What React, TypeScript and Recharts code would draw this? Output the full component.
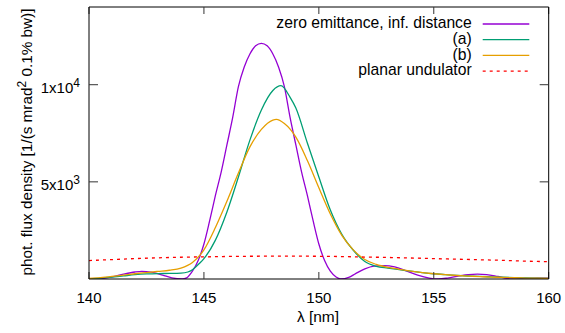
import { LineChart, Line, XAxis, YAxis } from "recharts"

const FONT = "'Liberation Sans', Arial, Helvetica, sans-serif"

// axis ticks
const xTicks = [140, 145, 150, 155, 160]
const yTicks = [5000, 10000]
const yTickBase = ["5x10", "1x10"]
const yTickExp = ["3", "4"]

const seriesNames = ["zero emittance, inf. distance", "(a)", "(b)", "planar undulator"]
const seriesColors = ["#9400d3", "#009e73", "#e69f00", "#ff0000"]

// zero emittance, infinite distance
const lambdaZero = [
  140, 140.4, 141, 141.5, 142, 142.3, 142.7, 143.2, 143.6, 144.05, 144.25, 144.5, 144.75, 145,
  145.25, 145.5, 145.75, 146, 146.25, 146.5, 146.75, 147, 147.25, 147.5, 147.75, 148, 148.25,
  148.5, 148.75, 149, 149.25, 149.5, 149.75, 150, 150.25, 150.5, 150.75, 150.95, 151.3, 151.6,
  152, 152.4, 152.85, 153.3, 153.8, 154.3, 154.8, 155.2, 155.6, 156.1, 156.5, 156.9, 157.3,
  157.8, 158.4, 159, 159.5, 160,
]
const fluxZero = [
  10, 5, 110, 250, 360, 390, 350, 200, 60, 0, 60, 400, 950, 1800,
  3000, 4300, 5500, 6900, 8300, 9900, 10900, 11580, 12000, 12130, 12000, 11580, 10900,
  9900, 8300, 6900, 5500, 4300, 3000, 1800, 950, 400, 100, 0, 80, 280,
  520, 660, 690, 620, 420, 200, 50, 0, 50, 160, 230, 250, 230,
  130, 0, 30, 50, 40,
]

// case (a)
const lambdaA = [
  140, 140.5, 141, 141.5, 142, 142.5, 143, 143.5, 144, 144.3, 144.5, 144.8, 145, 145.5, 146,
  146.5, 147, 147.5, 148, 148.35, 148.75, 149, 149.5, 150, 150.5, 151, 151.5, 152, 152.5, 153,
  153.5, 154, 154.5, 155, 155.5, 156, 156.5, 157, 157.5, 158, 158.5, 159, 159.5, 160,
]
const fluxA = [
  20, 50, 100, 160, 220, 260, 280, 285, 300, 360, 480, 800, 1050, 2000, 3450,
  5250, 7150, 8700, 9700, 9950, 9350, 8800, 7000, 5250, 3550, 2300, 1480, 900, 650, 560,
  480, 400, 330, 270, 225, 185, 155, 130, 110, 90, 72, 55, 42, 30,
]

// case (b)
const lambdaB = [
  140, 140.5, 141, 141.5, 142, 142.5, 143, 143.5, 144, 144.5, 145, 145.5, 146, 146.5, 147,
  147.5, 148, 148.15, 148.5, 149, 149.5, 150, 150.5, 151, 151.5, 152, 152.5, 153, 153.5, 154,
  154.5, 155, 155.5, 156, 156.5, 157, 157.5, 158, 158.5, 159, 159.5, 160,
]
const fluxB = [
  30, 70, 130, 200, 270, 330, 390, 450, 560, 850, 1500, 2650, 4000, 5450, 6800,
  7700, 8180, 8213, 8000, 7300, 6100, 4700, 3350, 2250, 1500, 1000, 750, 600, 500, 400,
  330, 270, 220, 180, 150, 125, 100, 80, 65, 50, 40, 30,
]

// planar undulator
const lambdaU = [140, 141, 142, 143, 144, 145, 146, 147, 148, 149, 150, 151, 152, 153, 154, 155, 156, 157, 158, 159, 160]
const fluxU = [950, 1000, 1050, 1090, 1120, 1140, 1160, 1170, 1175, 1175, 1170, 1155, 1130, 1110, 1080, 1050, 1020, 990, 960, 920, 890]

const pts = (xs: number[], ys: number[]) => xs.map((x, i) => ({ x, y: ys[i] }))

const series = [
  { data: pts(lambdaZero, fluxZero), dash: undefined },
  { data: pts(lambdaA, fluxA), dash: undefined },
  { data: pts(lambdaB, fluxB), dash: undefined },
  { data: pts(lambdaU, fluxU), dash: "3 4" },
]

const tickLineStyle = { stroke: "#333", strokeWidth: 1 }

function YTick(props: any) {
  const { x, y, payload } = props
  const i = yTicks.indexOf(payload.value)
  return (
    <text x={x} y={y + 8.5} textAnchor="end" fontSize={15} fontFamily={FONT} fill="#000">
      {yTickBase[i]}
      <tspan dy={-6} fontSize={12}>{yTickExp[i]}</tspan>
    </text>
  )
}

// mirrored axes: tick marks only, no labels
function NoLabel() {
  return <g />
}

export default function App() {
  return (
    <div style={{ position: "absolute", left: 0, top: 0, width: 565, height: 333, background: "#fff" }}>
      <LineChart width={565} height={333} margin={{ top: 6, right: 10, bottom: 4, left: 9 }}>
        <XAxis
          dataKey="x"
          type="number"
          domain={[140, 160]}
          ticks={xTicks}
          interval={0}
          height={50}
          tickSize={-7}
          tickMargin={20}
          stroke="#000"
          tickLine={tickLineStyle}
          tick={{ fontSize: 15, fill: "#000", fontFamily: FONT }}
          allowDataOverflow
        />
        <XAxis
          xAxisId="t"
          orientation="top"
          dataKey="x"
          type="number"
          domain={[140, 160]}
          ticks={xTicks}
          interval={0}
          height={1}
          tickSize={-7}
          tickLine={tickLineStyle}
          tick={<NoLabel />}
          stroke="#000"
          allowDataOverflow
        />
        <YAxis
          type="number"
          domain={[0, 14000]}
          ticks={yTicks}
          interval={0}
          width={80}
          tickSize={-9}
          tickMargin={18}
          stroke="#000"
          tickLine={tickLineStyle}
          tick={<YTick />}
          allowDataOverflow
        />
        <YAxis
          yAxisId="r"
          orientation="right"
          type="number"
          domain={[0, 14000]}
          ticks={yTicks}
          interval={0}
          width={6.3}
          tickSize={-9}
          tickLine={tickLineStyle}
          tick={<NoLabel />}
          stroke="#000"
          allowDataOverflow
        />
        {series.map((s, i) => (
          <Line
            key={i}
            data={s.data}
            dataKey="y"
            type="monotone"
            stroke={seriesColors[i]}
            strokeWidth={1.3}
            strokeDasharray={s.dash}
            dot={false}
            activeDot={false}
            isAnimationActive={false}
          />
        ))}
      </LineChart>
      <svg
        width={565}
        height={333}
        style={{ position: "absolute", left: 0, top: 0, pointerEvents: "none" }}
        fontFamily={FONT}
      >
        <text transform="translate(32,142) rotate(-90)" textAnchor="middle" fontSize={15.3} fill="#000">
          phot. flux density [1/(s mrad<tspan dy={-6} fontSize={12}>2</tspan>
          <tspan dy={6}> 0.1% bw)]</tspan>
        </text>
        <text x={318} y={322.4} textAnchor="middle" fontSize={15.5} fill="#000">
          λ [nm]
        </text>
        {seriesNames.map((name, i) => {
          const ly = 24 + i * 15.7
          return (
            <g key={name}>
              <text x={471.7} y={ly + 4.3} textAnchor="end" fontSize={15.7} fill="#000">
                {name}
              </text>
              <line
                x1={482.7}
                x2={529.3}
                y1={ly}
                y2={ly}
                stroke={seriesColors[i]}
                strokeWidth={1.3}
                strokeDasharray={i === 3 ? "3 4" : undefined}
              />
            </g>
          )
        })}
      </svg>
    </div>
  )
}
